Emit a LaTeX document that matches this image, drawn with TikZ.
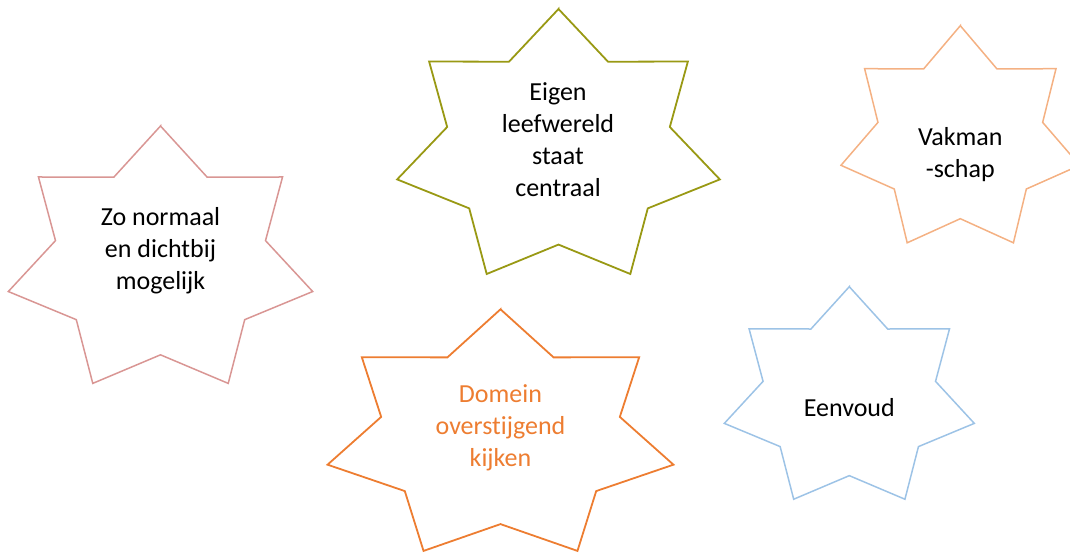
\documentclass[tikz,border=0pt]{standalone}
\usepackage{fontspec}
\setmainfont{Carlito}[Ligatures={NoCommon}]
\definecolor{starRose}{RGB}{217,150,148}
\definecolor{starOlive}{RGB}{153,153,20}
\definecolor{starPeach}{RGB}{244,177,131}
\definecolor{starOrange}{RGB}{237,125,49}
\definecolor{starBlue}{RGB}{157,195,230}
\tikzstyle{outline} = [line width=1.5pt,line join=miter]
\tikzstyle{startext} = [align=center,inner sep=0,font=\fontsize{26}{32}\selectfont]
\def \ri {0.69}
% seven-point star: centre, x radius, y radius, style
\newcommand{\heptastar}[4]{%
  \draw[#4,shift={(#1)},x=#2pt,y=#3pt] (90:1)
    \foreach \k in {0,...,6}{ -- (90+\k*360/7+180/7:\ri) -- (90+\k*360/7+360/7:1)} -- cycle;
}

\begin{document}
\begin{tikzpicture}[x=1pt,y=-1pt]
      \useasboundingbox (0,0) rectangle (1070,554);
      \clip (0,0) rectangle (1070,554);
      \heptastar{160.5,261.4}{156.1}{135.4}{outline,draw=starRose}
      \heptastar{558.5,148.4}{165.5}{139.4}{outline,draw=starOlive,line width=1.8pt}
      \heptastar{960.3,139.9}{122.4}{114.2}{outline,draw=starPeach}
      \heptastar{500.5,436.4}{177.4}{127.1}{outline,draw=starOrange,line width=1.8pt}
      \heptastar{849.3,398.5}{128.2}{111.8}{outline,draw=starBlue}
      \node[startext] (normaal) at (160.5,251) {Zo normaal\\en dichtbij\\mogelijk};
      \node[startext] (leefwereld) at (558,140) {Eigen\\leefwereld\\staat\\centraal};
      \node[startext] (vakmanschap) at (960.3,155) {Vakman\\-schap};
      \node[startext,text=starOrange] (domein) at (500.5,428) {Domein\\overstijgend\\kijken};
      \node[startext] (eenvoud) at (849.3,408) {Eenvoud};
\end{tikzpicture}
\end{document}
